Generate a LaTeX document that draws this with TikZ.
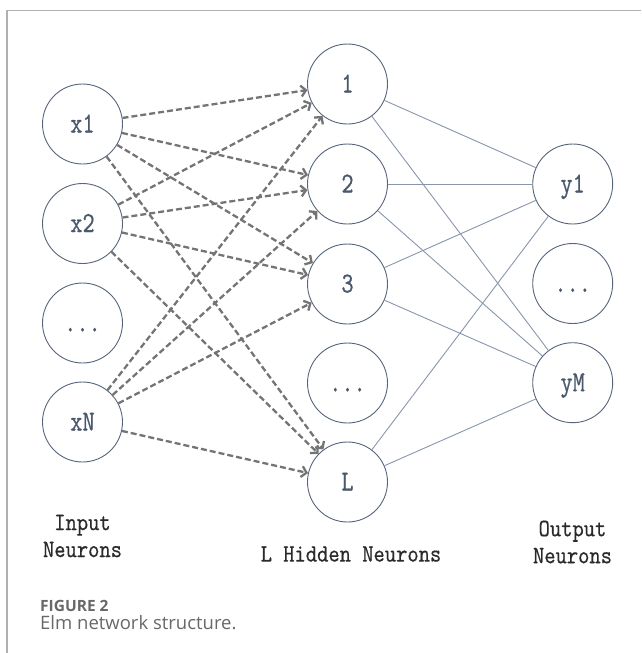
\documentclass[tikz,border=0pt]{standalone}
\usepackage{fontspec}
\usetikzlibrary{arrows.meta}
\newfontfamily\labfont[FakeStretch=0.86,FakeBold=0.4]{lmmono10-regular.otf}
\newfontfamily\nodefont[FakeStretch=0.8,FakeBold=0.5]{lmmono10-regular.otf}
\newfontfamily\capfont{Open Sans}
\definecolor{framegray}{HTML}{B0B0B0}
\definecolor{circlecol}{HTML}{56657A}
\definecolor{labcol}{HTML}{4A586C}
\definecolor{dashcol}{HTML}{747474}
\definecolor{linecol}{HTML}{8896AC}
\definecolor{textcol}{HTML}{2A2A2A}
\definecolor{capcol}{HTML}{686868}
\tikzset{
  neuron/.style={circle, draw=circlecol, line width=0.9pt, fill=white,
    minimum size=80pt, inner sep=0pt, text=labcol,
    font=\nodefont\fontsize{29}{29}\selectfont, text height=17pt, text depth=0pt},
  inarrow/.style={draw=dashcol, line width=2.3pt, dash pattern=on 6pt off 3pt,
    -{Straight Barb[length=5pt,width=11pt]}},
  outline/.style={draw=linecol, line width=0.9pt},
  grouplabel/.style={text=textcol, align=center,
    font=\labfont\fontsize{25}{27}\selectfont, inner sep=0pt},
  captiontitle/.style={text=capcol, anchor=base west, inner sep=0pt,
    font=\capfont\bfseries\fontsize{15.5}{17}\selectfont},
  captiontext/.style={text=capcol, anchor=base west, inner sep=0pt,
    font=\capfont\fontsize{18.5}{20}\selectfont}
}
\begin{document}
\begin{tikzpicture}[x=1pt,y=-1pt]
\useasboundingbox (0,0) rectangle (641,653);
\draw[framegray, line width=1.4pt] (7,653) -- (7,10.5) -- (641,10.5);

% input layer
\node[neuron] (x1) at (82.5,124) {x1};
\node[neuron] (x2) at (82.5,223.5) {x2};
\node[neuron] (xd) at (82.5,323) {...};
\node[neuron] (xN) at (82.5,422) {xN};

% hidden layer
\node[neuron] (h1) at (347.5,84) {1};
\node[neuron] (h2) at (347.5,184) {2};
\node[neuron] (h3) at (347.5,284) {3};
\node[neuron] (hd) at (347.5,383) {...};
\node[neuron] (hL) at (347.5,482) {L};

% output layer
\node[neuron] (y1) at (572.7,184) {y1};
\node[neuron] (yd) at (572.7,283.5) {...};
\node[neuron] (yM) at (572.7,382.7) {yM};

% dashed input -> hidden arrows
\foreach \s in {x1,x2,xN}{
  \foreach \t in {h1,h2,h3,hL}{
    \draw[inarrow] (\s) -- (\t);
  }
}

% hidden -> output lines
\foreach \s in {h1,h2,h3,hL}{
  \foreach \t in {y1,yM}{
    \draw[outline] (\s) -- (\t);
  }
}

% group labels
\node[grouplabel] (inlab) at (82.5,536) {Input\\Neurons};
\node[grouplabel] (hidlab) at (351,554) {L Hidden Neurons};
\node[grouplabel] (outlab) at (572.5,542) {Output\\Neurons};

% caption
\node[captiontitle] (figno) at (40,611.7) {FIGURE 2};
\node[captiontext] (figcap) at (40,629.3) {Elm network structure.};
\end{tikzpicture}
\end{document}
